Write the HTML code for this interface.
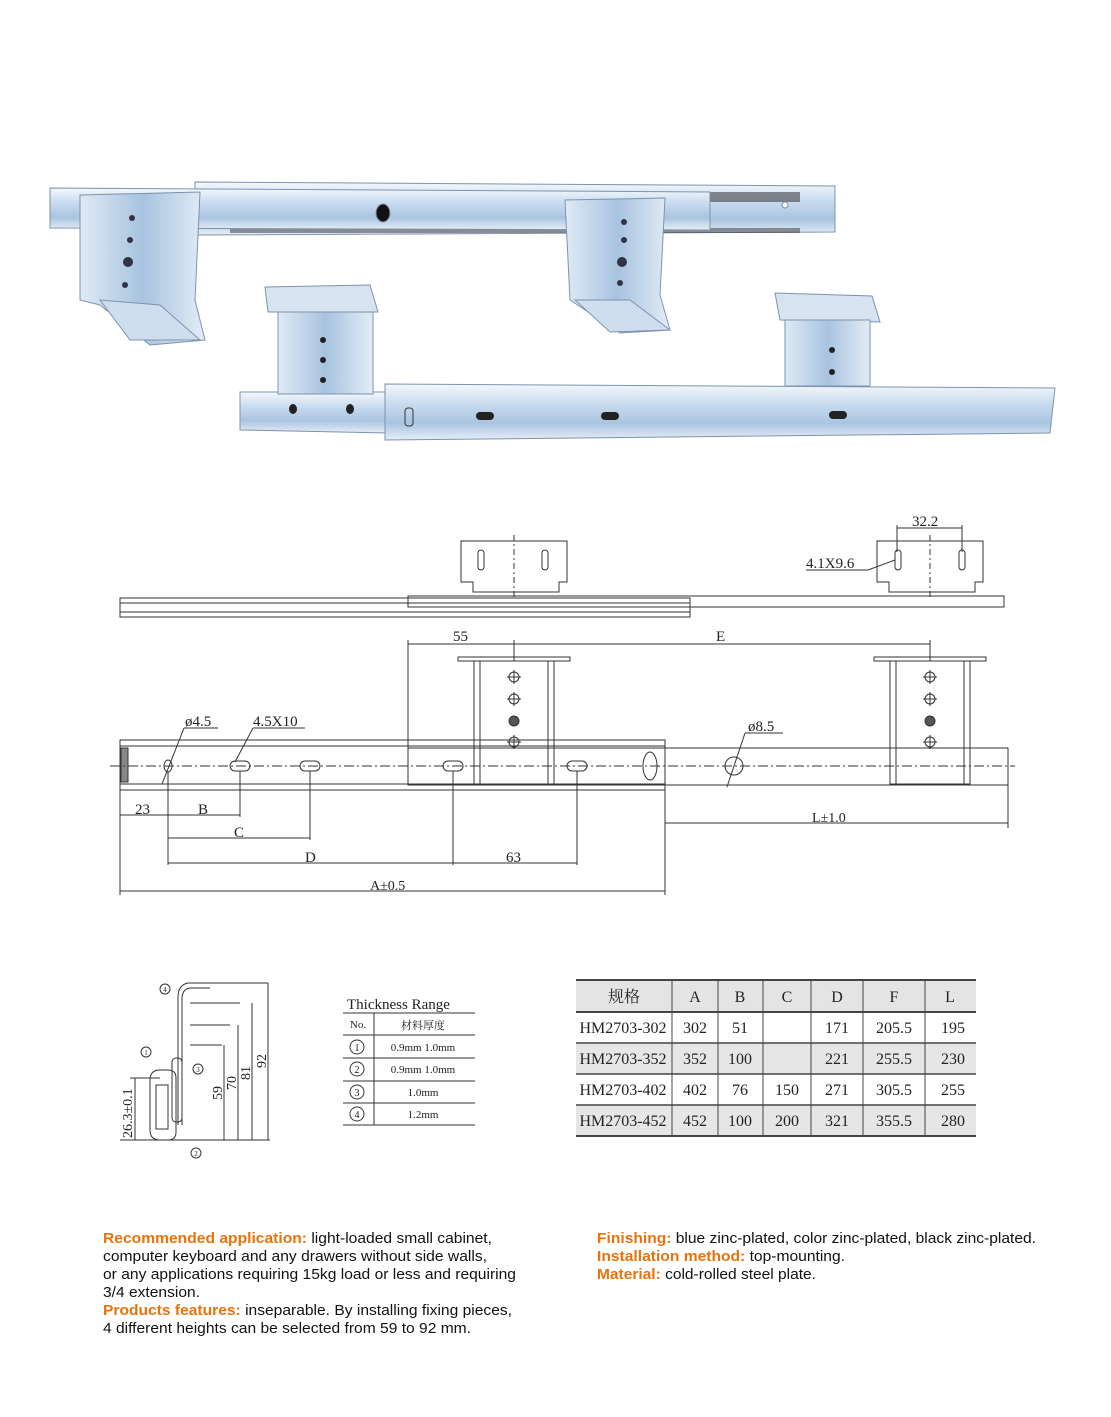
<!DOCTYPE html>
<html><head><meta charset="utf-8"><style>
html,body{margin:0;padding:0;background:#fff}
svg{display:block}
.t{font-family:"Liberation Serif","Noto Serif CJK SC",serif;fill:#222}
.s{font-family:"Liberation Sans",sans-serif;font-size:15px;fill:#111}
.o{fill:#e8720c}
</style></head><body>
<svg width="1111" height="1417" viewBox="0 0 1111 1417" xmlns="http://www.w3.org/2000/svg">
<defs>
<linearGradient id="m" x1="0" y1="0" x2="0" y2="1">
<stop offset="0" stop-color="#f4f8fc"/><stop offset=".35" stop-color="#c9dcef"/><stop offset=".7" stop-color="#a9c4e0"/><stop offset="1" stop-color="#e6eef7"/></linearGradient>
<linearGradient id="mh" x1="0" y1="0" x2="1" y2="0">
<stop offset="0" stop-color="#dfeaf5"/><stop offset=".5" stop-color="#a8c3df"/><stop offset="1" stop-color="#e3ecf6"/></linearGradient>
</defs>
<g stroke="#7d93ad" stroke-width="1">
<polygon points="195,182 835,186 835,232 195,235" fill="url(#m)"/>
<rect x="230" y="192" width="570" height="10" fill="#333" stroke="none" opacity=".55"/>
<rect x="230" y="228" width="570" height="5" fill="#333" stroke="none" opacity=".5"/>
<polygon points="50,188 710,192 710,230 50,228" fill="url(#m)"/>
<ellipse cx="383" cy="213" rx="7" ry="9" fill="#111"/>
<circle cx="785" cy="205" r="3" fill="#fff"/>
<polygon points="80,195 200,192 195,300 205,340 150,345 100,305 80,300" fill="url(#mh)"/>
<polygon points="565,200 665,198 660,295 670,330 620,333 570,300" fill="url(#mh)"/>
<polygon points="100,300 160,305 200,340 130,340" fill="#cfdeee"/>
<polygon points="575,300 630,300 670,330 610,332" fill="#cfdeee"/>
</g>
<g fill="#334">
<circle cx="132" cy="218" r="3"/><circle cx="130" cy="240" r="3"/><circle cx="128" cy="262" r="5"/><circle cx="125" cy="285" r="3"/>
<circle cx="624" cy="222" r="3"/><circle cx="624" cy="240" r="3"/><circle cx="622" cy="262" r="5"/><circle cx="620" cy="283" r="3"/>
</g>
<g stroke="#7d93ad" stroke-width="1">
<polygon points="240,392 390,392 390,433 240,430" fill="url(#m)"/>
<polygon points="385,384 1055,388 1050,433 385,440" fill="url(#m)"/>
<polygon points="265,287 370,285 378,312 268,312" fill="#d7e3f0"/>
<rect x="278" y="312" width="95" height="82" fill="url(#mh)"/>
<polygon points="775,293 872,296 880,322 780,320" fill="#d7e3f0"/>
<rect x="785" y="320" width="85" height="66" fill="url(#mh)"/>
</g>
<g fill="#222">
<ellipse cx="293" cy="409" rx="4" ry="5"/><ellipse cx="350" cy="409" rx="4" ry="5"/>
<rect x="476" y="412" width="18" height="8" rx="4"/><rect x="601" y="412" width="18" height="8" rx="4"/><rect x="829" y="411" width="18" height="8" rx="4"/>
<rect x="405" y="408" width="8" height="18" rx="3" fill="none" stroke="#333"/>
<circle cx="323" cy="340" r="3"/><circle cx="323" cy="360" r="3"/><circle cx="323" cy="380" r="3"/>
<circle cx="832" cy="350" r="3"/><circle cx="832" cy="372" r="3"/>
</g>
<g fill="none" stroke="#333" stroke-width="1">
<rect x="120" y="598" width="570" height="19"/>
<line x1="120" y1="603" x2="690" y2="603"/><line x1="120" y1="612" x2="690" y2="612"/>
<rect x="408" y="596" width="596" height="11"/>
<path d="M461,541 h106 v41 h-8 v10 h-86 v-10 h-12 z"/>
<path d="M877,541 h106 v41 h-8 v10 h-86 v-10 h-12 z"/>
<rect x="478" y="550" width="6" height="20" rx="3"/><rect x="542" y="550" width="6" height="20" rx="3"/>
<rect x="895" y="550" width="6" height="20" rx="3"/><rect x="959" y="550" width="6" height="20" rx="3"/>
<line x1="514" y1="535" x2="514" y2="598" stroke-dasharray="6,3,2,3"/>
<line x1="930" y1="535" x2="930" y2="598" stroke-dasharray="6,3,2,3"/>
<line x1="897" y1="525" x2="897" y2="552"/><line x1="962" y1="525" x2="962" y2="552"/>
<line x1="897" y1="528" x2="962" y2="528"/>
<line x1="868" y1="570" x2="895" y2="560"/><line x1="806" y1="570" x2="868" y2="570"/>
</g>
<text class="t" x="912" y="526" font-size="15">32.2</text>
<text class="t" x="806" y="568" font-size="15">4.1X9.6</text>
<g fill="none" stroke="#333" stroke-width="1">
<rect x="120" y="740" width="545" height="50"/>
<line x1="120" y1="746" x2="665" y2="746"/><line x1="120" y1="784" x2="665" y2="784"/>
<rect x="408" y="748" width="600" height="37"/>
<rect x="121" y="748" width="7" height="34" fill="#888"/>
<line x1="110" y1="766" x2="1015" y2="766" stroke-dasharray="10,3,2,3"/>
<rect x="458" y="657" width="112" height="4"/>
<rect x="874" y="657" width="112" height="4"/>
<rect x="474" y="661" width="80" height="123"/>
<rect x="890" y="661" width="80" height="123"/>
<line x1="480" y1="661" x2="480" y2="784"/><line x1="548" y1="661" x2="548" y2="784"/>
<line x1="896" y1="661" x2="896" y2="784"/><line x1="964" y1="661" x2="964" y2="784"/>
<circle cx="514" cy="677" r="5"/><circle cx="514" cy="699" r="5"/><circle cx="514" cy="721" r="5" fill="#555"/><circle cx="514" cy="742" r="5"/>
<circle cx="930" cy="677" r="5"/><circle cx="930" cy="699" r="5"/><circle cx="930" cy="721" r="5" fill="#555"/><circle cx="930" cy="742" r="5"/>
<path d="M507,677h14M514,670v14M507,699h14M514,692v14M507,742h14M514,735v14M923,677h14M930,670v14M923,699h14M930,692v14M923,742h14M930,735v14"/>
<ellipse cx="168" cy="766" rx="4" ry="6"/>
<rect x="230" y="761" width="20" height="10" rx="5"/><rect x="300" y="761" width="20" height="10" rx="5"/>
<rect x="443" y="761" width="20" height="10" rx="5"/><rect x="567" y="761" width="20" height="10" rx="5"/>
<ellipse cx="650" cy="766" rx="7" ry="14"/>
<circle cx="734" cy="766" r="9"/>
<line x1="408" y1="640" x2="408" y2="748"/>
<line x1="408" y1="644" x2="930" y2="644"/>
<line x1="514" y1="640" x2="514" y2="661"/><line x1="930" y1="640" x2="930" y2="661"/>
<line x1="120" y1="790" x2="120" y2="895"/>
<line x1="168" y1="772" x2="168" y2="865"/>
<line x1="240" y1="771" x2="240" y2="817"/>
<line x1="310" y1="771" x2="310" y2="840"/>
<line x1="453" y1="771" x2="453" y2="865"/>
<line x1="577" y1="771" x2="577" y2="865"/>
<line x1="665" y1="790" x2="665" y2="895"/>
<line x1="1008" y1="785" x2="1008" y2="828"/>
<line x1="120" y1="815" x2="240" y2="815"/>
<line x1="168" y1="838" x2="310" y2="838"/>
<line x1="168" y1="863" x2="577" y2="863"/>
<line x1="120" y1="891" x2="665" y2="891"/>
<line x1="665" y1="823" x2="1008" y2="823"/>
<line x1="162" y1="784" x2="184" y2="728"/><line x1="184" y1="728" x2="218" y2="728"/>
<line x1="235" y1="762" x2="253" y2="728"/><line x1="253" y1="728" x2="305" y2="728"/>
<line x1="727" y1="787" x2="745" y2="733"/><line x1="745" y1="733" x2="783" y2="733"/>
</g>
<g class="t" font-size="15">
<text x="453" y="641">55</text><text x="716" y="641">E</text>
<text x="185" y="726">ø4.5</text><text x="253" y="726">4.5X10</text><text x="748" y="731">ø8.5</text>
<text x="135" y="814">23</text><text x="198" y="814">B</text><text x="234" y="837">C</text>
<text x="305" y="862">D</text><text x="506" y="862">63</text><text x="370" y="890" font-size="14">A±0.5</text>
<text x="812" y="822" font-size="14">L±1.0</text>
</g>
<g fill="none" stroke="#333" stroke-width="1">
<path d="M178,1125 V997 q0,-12 10,-14 H268"/>
<path d="M182,1125 V999 q0,-10 8,-11 H210"/>
<line x1="190" y1="1003" x2="240" y2="1003"/><line x1="190" y1="1025" x2="230" y2="1025"/><line x1="190" y1="1045" x2="222" y2="1045"/>
<line x1="268" y1="983" x2="268" y2="1140"/><line x1="252" y1="1003" x2="252" y2="1140"/><line x1="238" y1="1025" x2="238" y2="1140"/><line x1="224" y1="1045" x2="224" y2="1140"/>
<rect x="172" y="1058" width="10" height="64" rx="4"/>
<path d="M150,1080 q0,-10 10,-10 h8 q8,0 8,8 v54 q0,8 -8,8 h-8 q-10,0 -10,-10 z"/>
<path d="M156,1085 h12 v44 h-12 z"/>
<line x1="120" y1="1140" x2="270" y2="1140"/>
<line x1="135" y1="1078" x2="135" y2="1140"/><line x1="130" y1="1078" x2="160" y2="1078"/>
<circle cx="165" cy="989" r="5"/><circle cx="146" cy="1052" r="5"/><circle cx="198" cy="1069" r="5"/><circle cx="196" cy="1153" r="5"/>
</g>
<g class="t" font-size="7" text-anchor="middle">
<text x="165" y="992">4</text><text x="146" y="1055">1</text><text x="198" y="1072">3</text><text x="196" y="1156">2</text>
</g>
<g class="t" font-size="14">
<text transform="translate(132,1138) rotate(-90)">26.3±0.1</text>
<text transform="translate(222,1100) rotate(-90)">59</text>
<text transform="translate(236,1090) rotate(-90)">70</text>
<text transform="translate(250,1080) rotate(-90)">81</text>
<text transform="translate(266,1068) rotate(-90)">92</text>
</g>
<text class="t" x="347" y="1009" font-size="15">Thickness Range</text>
<g stroke="#333" fill="none">
<line x1="343" y1="1013" x2="475" y2="1013"/>
<line x1="343" y1="1035" x2="475" y2="1035"/><line x1="343" y1="1058" x2="475" y2="1058"/><line x1="343" y1="1081" x2="475" y2="1081"/><line x1="343" y1="1103" x2="475" y2="1103"/><line x1="343" y1="1125" x2="475" y2="1125"/>
<line x1="374" y1="1013" x2="374" y2="1125"/>
<circle cx="357" cy="1047" r="7"/><circle cx="357" cy="1069" r="7"/><circle cx="357" cy="1092" r="7"/><circle cx="357" cy="1114" r="7"/>
</g>
<g class="t" font-size="11" text-anchor="middle">
<text x="358" y="1028">No.</text><text x="423" y="1029">材料厚度</text>
<text x="357" y="1051" font-size="10">1</text><text x="357" y="1073" font-size="10">2</text><text x="357" y="1096" font-size="10">3</text><text x="357" y="1118" font-size="10">4</text>
<text x="423" y="1051">0.9mm 1.0mm</text><text x="423" y="1073">0.9mm 1.0mm</text><text x="423" y="1096">1.0mm</text><text x="423" y="1118">1.2mm</text>
</g>
<rect x="576" y="980" width="400" height="32" fill="#e4e4e4"/>
<rect x="576" y="1043" width="400" height="31" fill="#e6e6e6"/>
<rect x="576" y="1105" width="400" height="31" fill="#e6e6e6"/>
<g stroke="#444">
<line x1="576" y1="980" x2="976" y2="980" stroke-width="2"/><line x1="576" y1="1012" x2="976" y2="1012" stroke-width="2"/>
<line x1="576" y1="1043" x2="976" y2="1043" stroke-width="1.5"/><line x1="576" y1="1074" x2="976" y2="1074" stroke-width="1.5"/><line x1="576" y1="1105" x2="976" y2="1105" stroke-width="1.5"/><line x1="576" y1="1136" x2="976" y2="1136" stroke-width="2"/>
<g stroke-width="1"><line x1="672" y1="980" x2="672" y2="1136"/><line x1="718" y1="980" x2="718" y2="1136"/><line x1="763" y1="980" x2="763" y2="1136"/><line x1="811" y1="980" x2="811" y2="1136"/><line x1="863" y1="980" x2="863" y2="1136"/><line x1="925" y1="980" x2="925" y2="1136"/></g>
</g>
<g class="t" font-size="16" text-anchor="middle">
<text x="624" y="1002">规格</text><text x="695" y="1002">A</text><text x="740" y="1002">B</text><text x="787" y="1002">C</text><text x="837" y="1002">D</text><text x="894" y="1002">F</text><text x="950" y="1002">L</text>
<text x="623" y="1033">HM2703-302</text><text x="695" y="1033">302</text><text x="740" y="1033">51</text><text x="837" y="1033">171</text><text x="894" y="1033">205.5</text><text x="953" y="1033">195</text>
<text x="623" y="1064">HM2703-352</text><text x="695" y="1064">352</text><text x="740" y="1064">100</text><text x="837" y="1064">221</text><text x="894" y="1064">255.5</text><text x="953" y="1064">230</text>
<text x="623" y="1095">HM2703-402</text><text x="695" y="1095">402</text><text x="740" y="1095">76</text><text x="787" y="1095">150</text><text x="837" y="1095">271</text><text x="894" y="1095">305.5</text><text x="953" y="1095">255</text>
<text x="623" y="1126">HM2703-452</text><text x="695" y="1126">452</text><text x="740" y="1126">100</text><text x="787" y="1126">200</text><text x="837" y="1126">321</text><text x="894" y="1126">355.5</text><text x="953" y="1126">280</text>
</g>
<g class="s">
<text x="103" y="1243" textLength="389" lengthAdjust="spacingAndGlyphs"><tspan class="o" font-weight="bold">Recommended application:</tspan> light-loaded small cabinet,</text>
<text x="103" y="1261" textLength="384" lengthAdjust="spacingAndGlyphs">computer keyboard and any drawers without side walls,</text>
<text x="103" y="1279" textLength="413" lengthAdjust="spacingAndGlyphs">or any applications requiring 15kg load or less and requiring</text>
<text x="103" y="1297" textLength="97" lengthAdjust="spacingAndGlyphs">3/4 extension.</text>
<text x="103" y="1315" textLength="409" lengthAdjust="spacingAndGlyphs"><tspan class="o" font-weight="bold">Products features:</tspan> inseparable. By installing fixing pieces,</text>
<text x="103" y="1333" textLength="368" lengthAdjust="spacingAndGlyphs">4 different heights can be selected from 59 to 92 mm.</text>
<text x="597" y="1243" textLength="439" lengthAdjust="spacingAndGlyphs"><tspan class="o" font-weight="bold">Finishing:</tspan> blue zinc-plated, color zinc-plated, black zinc-plated.</text>
<text x="597" y="1261" textLength="248" lengthAdjust="spacingAndGlyphs"><tspan class="o" font-weight="bold">Installation method:</tspan> top-mounting.</text>
<text x="597" y="1279" textLength="219" lengthAdjust="spacingAndGlyphs"><tspan class="o" font-weight="bold">Material:</tspan> cold-rolled steel plate.</text>
</g>
</svg>
</body></html>
